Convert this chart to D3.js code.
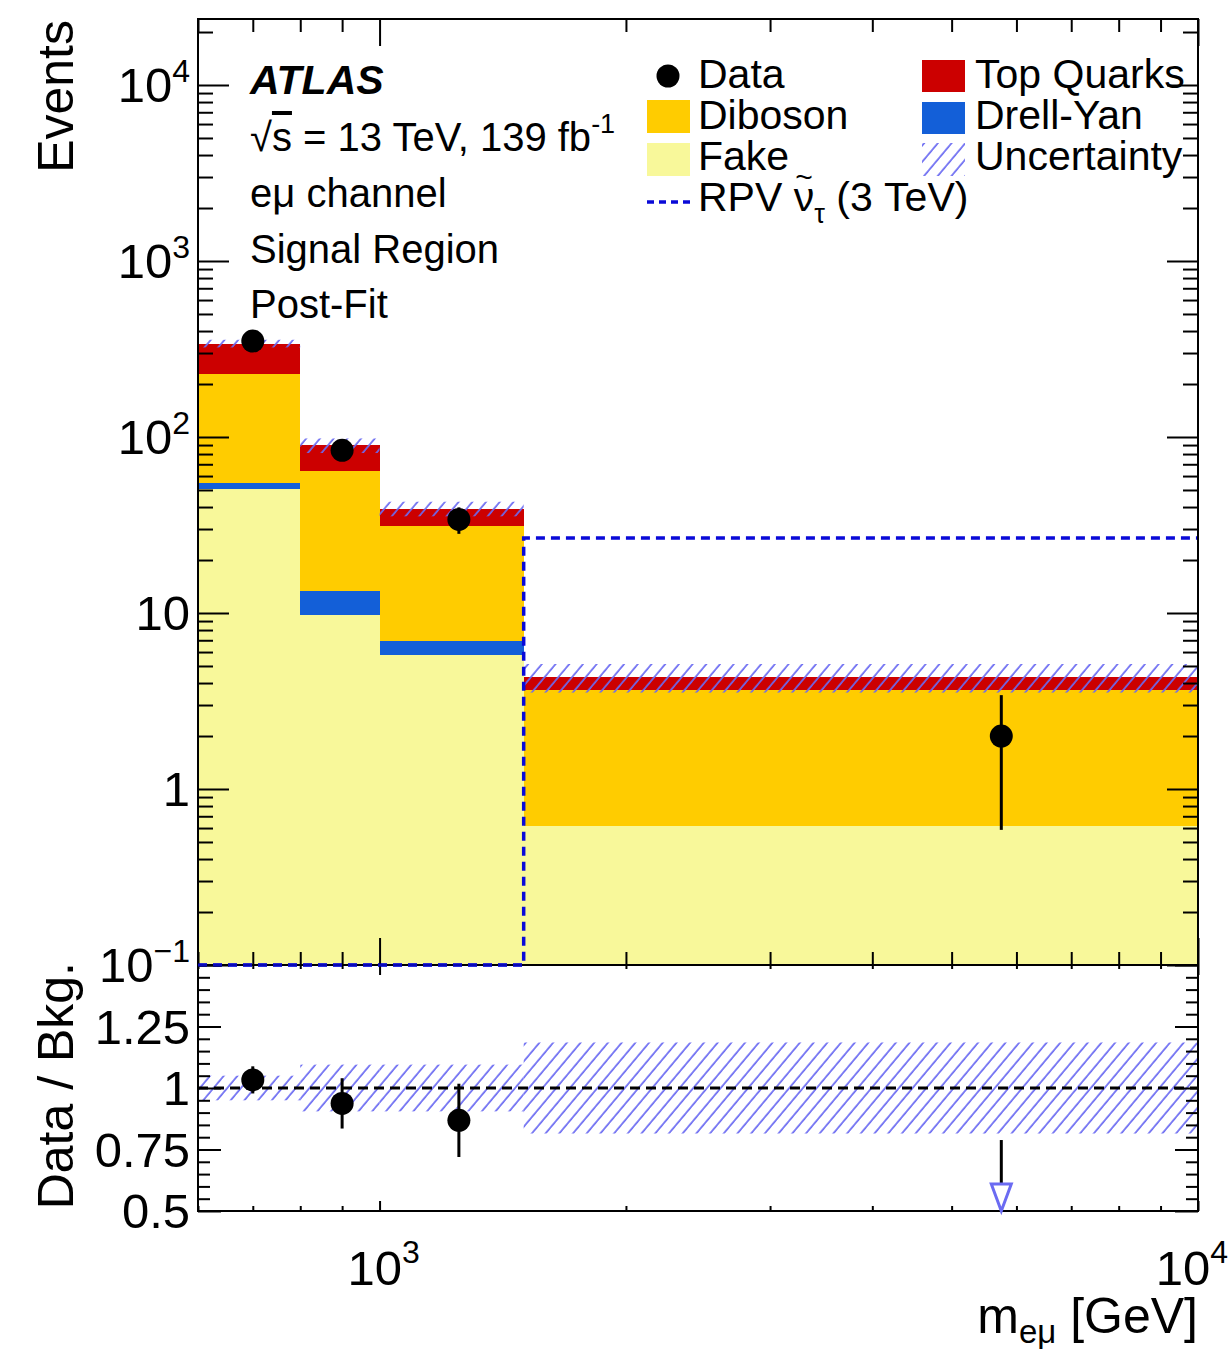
<!DOCTYPE html>
<html>
<head>
<meta charset="utf-8">
<script src="https://cdn.jsdelivr.net/npm/d3@7"></script>
<style>
  html, body { margin: 0; padding: 0; background: #fff; }
  svg { display: block; }
  text { font-family: "Liberation Sans", Arial, Helvetica, sans-serif; fill: #000; }
</style>
</head>
<body>
<svg id="chart" width="1229" height="1349"></svg>
<script>
// ---------------- data ----------------
const binEdges   = [600, 800, 1000, 1500, 10000];
const binCenters = [700, 900, 1250, 5750];
const fake       = [50.7, 9.7, 5.8, 0.62];
const drellYan   = [4.1, 3.6, 1.15, 0];
const diboson    = [173, 50.8, 24.3, 3.03];
const topQuarks  = [112, 25.5, 7.9, 0.68];
const dataCounts = [351, 84, 34, 2];
const relUncert  = [0.05, 0.095, 0.095, 0.185];
const signalRPV  = [0.01, 0.01, 0.01, 26.7];

const yMajorTicks = [0.1, 1, 10, 100, 1000, 10000];
const yTickLabels = [["10", "\u22121"], ["1", ""], ["10", ""], ["10", "2"], ["10", "3"], ["10", "4"]];
const xMajorTicks = [1000, 10000];
const xTickLabels = [["10", "3"], ["10", "4"]];
const xMinorTicks = [600, 700, 800, 900, 2000, 3000, 4000, 5000, 6000, 7000, 8000, 9000];
const rMajorTicks = [0.5, 0.75, 1, 1.25, 1.5];
const rTickLabels = ["0.5", "0.75", "1", "1.25", ""];

const components = [
  { name: "Fake",       values: fake,      color: "#f8f89a" },
  { name: "Drell-Yan",  values: drellYan,  color: "#135fd8" },
  { name: "Diboson",    values: diboson,   color: "#ffcc00" },
  { name: "Top Quarks", values: topQuarks, color: "#cc0000" }
];

// ---------------- layout ----------------
const L = 198, R = 1198, T = 19, MID = 965, B = 1211;
const svg = d3.select("#chart");

const x  = d3.scaleLog().domain([600, 10000]).range([L, R]);
const y  = d3.scaleLog().domain([0.1, Math.pow(10, 4.375)]).range([MID, T]).clamp(true);
const yr = d3.scaleLinear().domain([0.5, 1.5]).range([B, MID]).clamp(true);

// hatch pattern
const defs = svg.append("defs");
defs.append("pattern")
  .attr("id", "hatch").attr("patternUnits", "userSpaceOnUse")
  .attr("width", 10.5).attr("height", 10)
  .attr("patternTransform", "rotate(40)")
  .append("line").attr("x1", 2).attr("y1", -1).attr("x2", 2).attr("y2", 11)
  .attr("stroke", "#6b6bf2").attr("stroke-width", 1.7);

defs.append("clipPath").attr("id", "clipTop")
  .append("rect").attr("x", L).attr("y", T).attr("width", R - L).attr("height", MID - T);
defs.append("clipPath").attr("id", "clipRatio")
  .append("rect").attr("x", L).attr("y", MID).attr("width", R - L).attr("height", B - MID);

// ---------------- top panel ----------------
const topG = svg.append("g").attr("clip-path", "url(#clipTop)");
const nBins = binCenters.length;
const totals = d3.range(nBins).map(i => d3.sum(components, c => c.values[i]));

d3.range(nBins).forEach(i => {
  let cum = 0;
  components.forEach(c => {
    const lo = cum, hi = cum + c.values[i];
    cum = hi;
    if (c.values[i] <= 0) return;
    const y0 = lo <= 0 ? MID : y(lo);
    const y1 = y(hi);
    topG.append("rect")
      .attr("x", x(binEdges[i])).attr("width", x(binEdges[i + 1]) - x(binEdges[i]))
      .attr("y", y1).attr("height", Math.max(0, y0 - y1))
      .attr("fill", c.color).attr("shape-rendering", "crispEdges");
  });
});

// uncertainty band
topG.selectAll("rect.unc").data(d3.range(nBins)).join("rect")
  .attr("class", "unc")
  .attr("x", i => x(binEdges[i])).attr("width", i => x(binEdges[i + 1]) - x(binEdges[i]))
  .attr("y", i => y(totals[i] * (1 + relUncert[i])))
  .attr("height", i => y(totals[i] * (1 - relUncert[i])) - y(totals[i] * (1 + relUncert[i])))
  .attr("fill", "url(#hatch)");

// signal step line
const sigPts = [];
d3.range(nBins).forEach(i => {
  sigPts.push([x(binEdges[i]), y(signalRPV[i])]);
  sigPts.push([x(binEdges[i + 1]), y(signalRPV[i])]);
});
svg.append("path")
  .attr("d", d3.line()(sigPts))
  .attr("fill", "none").attr("stroke", "#0a0ad8").attr("stroke-width", 3.5)
  .attr("stroke-dasharray", "9 6");

// ---------------- ratio panel ----------------
const ratioG = svg.append("g").attr("clip-path", "url(#clipRatio)");
ratioG.selectAll("rect.runc").data(d3.range(nBins)).join("rect")
  .attr("x", i => x(binEdges[i])).attr("width", i => x(binEdges[i + 1]) - x(binEdges[i]))
  .attr("y", i => yr(1 + relUncert[i]))
  .attr("height", i => yr(1 - relUncert[i]) - yr(1 + relUncert[i]))
  .attr("fill", "url(#hatch)");

svg.append("line")
  .attr("x1", L).attr("x2", R).attr("y1", yr(1)).attr("y2", yr(1))
  .attr("stroke", "#000").attr("stroke-width", 3).attr("stroke-dasharray", "10 6");

// ---------------- frames & ticks ----------------
function styleAxis(g) {
  g.select(".domain").remove();
  g.selectAll(".tick line").attr("stroke", "#000").attr("stroke-width", 2);
  g.selectAll(".tick text").remove();
}
function addAxis(axisFn, scale, vals, size, tx, ty) {
  svg.append("g").attr("transform", `translate(${tx},${ty})`)
    .call(axisFn(scale).tickValues(vals).tickSize(-size).tickFormat(""))
    .call(styleAxis);
}
const yMinor = [];
for (let d = -1; d <= 4; d++) for (let k = 2; k <= 9; k++) {
  const v = k * Math.pow(10, d);
  if (v < y.domain()[1]) yMinor.push(v);
}
const rMinor = d3.range(0.55, 1.5, 0.05).filter(v => Math.abs((v / 0.25) - Math.round(v / 0.25)) > 1e-6);

// top panel
addAxis(d3.axisBottom, x, xMinorTicks, 13, 0, MID);
addAxis(d3.axisBottom, x, xMajorTicks, 27, 0, MID);
addAxis(d3.axisTop, x, xMinorTicks, 13, 0, T);
addAxis(d3.axisTop, x, xMajorTicks, 27, 0, T);
addAxis(d3.axisLeft, y, yMinor, 15, L, 0);
addAxis(d3.axisLeft, y, yMajorTicks, 31, L, 0);
addAxis(d3.axisRight, y, yMinor, 15, R, 0);
addAxis(d3.axisRight, y, yMajorTicks, 31, R, 0);
// ratio panel
addAxis(d3.axisTop, x, xMinorTicks, 4, 0, MID);
addAxis(d3.axisTop, x, xMajorTicks, 10, 0, MID);
addAxis(d3.axisBottom, x, xMinorTicks, 5, 0, B);
addAxis(d3.axisBottom, x, xMajorTicks, 10, 0, B);
addAxis(d3.axisLeft, yr, rMinor, 12, L, 0);
addAxis(d3.axisLeft, yr, rMajorTicks, 23, L, 0);
addAxis(d3.axisRight, yr, rMinor, 12, R, 0);
addAxis(d3.axisRight, yr, rMajorTicks, 23, R, 0);

svg.append("rect").attr("x", L).attr("y", T).attr("width", R - L).attr("height", MID - T)
  .attr("fill", "none").attr("stroke", "#000").attr("stroke-width", 2);
svg.append("rect").attr("x", L).attr("y", MID).attr("width", R - L).attr("height", B - MID)
  .attr("fill", "none").attr("stroke", "#000").attr("stroke-width", 2);

// redraw signal bottom segment over the frame (dashed along the axis)
svg.append("path")
  .attr("d", d3.line()(sigPts.slice(0, 6)))
  .attr("fill", "none").attr("stroke", "#0a0ad8").attr("stroke-width", 3)
  .attr("stroke-dasharray", "9 6").attr("opacity", 0.85);

// ---------------- data points ----------------
const dataG = svg.append("g");
d3.range(nBins).forEach(i => {
  const n = dataCounts[i], e = Math.sqrt(n);
  const cx = x(binCenters[i]);
  dataG.append("line").attr("x1", cx).attr("x2", cx)
    .attr("y1", y(n + e)).attr("y2", y(Math.max(n - e, 1e-3)))
    .attr("stroke", "#000").attr("stroke-width", 3);
  dataG.append("circle").attr("cx", cx).attr("cy", y(n)).attr("r", 11.5).attr("fill", "#000");

  // ratio
  const r = n / totals[i], re = e / totals[i];
  if (r >= 0.5) {
    dataG.append("line").attr("x1", cx).attr("x2", cx)
      .attr("y1", yr(r + re)).attr("y2", yr(r - re))
      .attr("stroke", "#000").attr("stroke-width", 3);
    dataG.append("circle").attr("cx", cx).attr("cy", yr(r)).attr("r", 11.5).attr("fill", "#000");
  } else {
    const tipY = yr(0.5), triTop = tipY - 27;
    dataG.append("line").attr("x1", cx).attr("x2", cx)
      .attr("y1", yr(r + re)).attr("y2", triTop)
      .attr("stroke", "#000").attr("stroke-width", 3);
    dataG.append("path")
      .attr("d", `M${cx - 10},${triTop} L${cx + 10},${triTop} L${cx},${tipY} Z`)
      .attr("fill", "#fff").attr("stroke", "#6b6bf2").attr("stroke-width", 3)
      .attr("stroke-linejoin", "miter");
  }
});

// ---------------- tick labels ----------------
const labG = svg.append("g");
yMajorTicks.forEach((v, i) => {
  const t = labG.append("text").attr("x", 190).attr("y", y(v) + 17)
    .attr("text-anchor", "end").attr("font-size", 49);
  t.append("tspan").text(yTickLabels[i][0]);
  if (yTickLabels[i][1]) t.append("tspan").attr("dy", -20).attr("font-size", 32).text(yTickLabels[i][1]);
});
rMajorTicks.forEach((v, i) => {
  if (!rTickLabels[i]) return;
  labG.append("text").attr("x", 190).attr("y", yr(v) + 17)
    .attr("text-anchor", "end").attr("font-size", 49).text(rTickLabels[i]);
});
xMajorTicks.forEach((v, i) => {
  const t = labG.append("text").attr("x", Math.min(x(v) + 4, 1192)).attr("y", 1285)
    .attr("text-anchor", "middle").attr("font-size", 49);
  t.append("tspan").text(xTickLabels[i][0]);
  t.append("tspan").attr("dy", -22).attr("font-size", 32).text(xTickLabels[i][1]);
});

// axis titles
labG.append("text").attr("transform", "translate(73,20) rotate(-90)")
  .attr("text-anchor", "end").attr("font-size", 50).text("Events");
labG.append("text").attr("transform", "translate(73,962) rotate(-90)")
  .attr("text-anchor", "end").attr("font-size", 50).text("Data / Bkg.");
const xt = labG.append("text").attr("x", 1198).attr("y", 1333)
  .attr("text-anchor", "end").attr("font-size", 50);
xt.append("tspan").text("m");
xt.append("tspan").attr("dy", 10).attr("font-size", 33).text("e\u03bc");
xt.append("tspan").attr("dy", -10).text(" [GeV]");

// ---------------- labels ----------------
const info = svg.append("g");
info.append("text").attr("x", 250).attr("y", 94).attr("font-size", 41)
  .attr("font-weight", "bold").attr("font-style", "italic").text("ATLAS");
const s1 = info.append("text").attr("x", 250).attr("y", 151).attr("font-size", 40);
s1.append("tspan").text("\u221a");
s1.append("tspan").attr("text-decoration", "overline").text("s");
s1.append("tspan").text(" = 13 TeV, 139 fb");
s1.append("tspan").attr("dy", -18).attr("font-size", 27).text("-1");
info.append("text").attr("x", 250).attr("y", 207).attr("font-size", 40).text("e\u03bc channel");
info.append("text").attr("x", 250).attr("y", 263).attr("font-size", 40).text("Signal Region");
info.append("text").attr("x", 250).attr("y", 318).attr("font-size", 40).text("Post-Fit");

// ---------------- legend ----------------
const leg = svg.append("g");
const legFont = 41;
// left column
leg.append("circle").attr("cx", 668).attr("cy", 76).attr("r", 11.5).attr("fill", "#000");
leg.append("text").attr("x", 698).attr("y", 88).attr("font-size", legFont).text("Data");
leg.append("rect").attr("x", 647).attr("y", 100).attr("width", 43).attr("height", 33).attr("fill", components[2].color);
leg.append("text").attr("x", 698).attr("y", 129).attr("font-size", legFont).text("Diboson");
leg.append("rect").attr("x", 647).attr("y", 143).attr("width", 43).attr("height", 33).attr("fill", components[0].color);
leg.append("text").attr("x", 698).attr("y", 170).attr("font-size", legFont).text("Fake");
leg.append("line").attr("x1", 647).attr("x2", 690).attr("y1", 202).attr("y2", 202)
  .attr("stroke", "#0a0ad8").attr("stroke-width", 3.5).attr("stroke-dasharray", "7 5");
const rpv = leg.append("text").attr("x", 698).attr("y", 211).attr("font-size", legFont);
rpv.append("tspan").text("RPV \u03bd");
rpv.append("tspan").attr("dy", 12).attr("font-size", 27).text("\u03c4");
rpv.append("tspan").attr("dy", -12).text(" (3 TeV)");
{
  const node = rpv.node();
  const s = node.getStartPositionOfChar(4), e = node.getEndPositionOfChar(4);
  leg.append("text").attr("x", (s.x + e.x) / 2).attr("y", 211 - 24)
    .attr("text-anchor", "middle").attr("font-size", 30).text("~");
}
// right column
leg.append("rect").attr("x", 922).attr("y", 60).attr("width", 43).attr("height", 32).attr("fill", components[3].color);
leg.append("text").attr("x", 975).attr("y", 88).attr("font-size", legFont).text("Top Quarks");
leg.append("rect").attr("x", 922).attr("y", 102).attr("width", 43).attr("height", 32).attr("fill", components[1].color);
leg.append("text").attr("x", 975).attr("y", 129).attr("font-size", legFont).text("Drell-Yan");
leg.append("rect").attr("x", 922).attr("y", 143).attr("width", 43).attr("height", 33).attr("fill", "url(#hatch)");
leg.append("text").attr("x", 975).attr("y", 170).attr("font-size", legFont).text("Uncertainty");
</script>
</body>
</html>
